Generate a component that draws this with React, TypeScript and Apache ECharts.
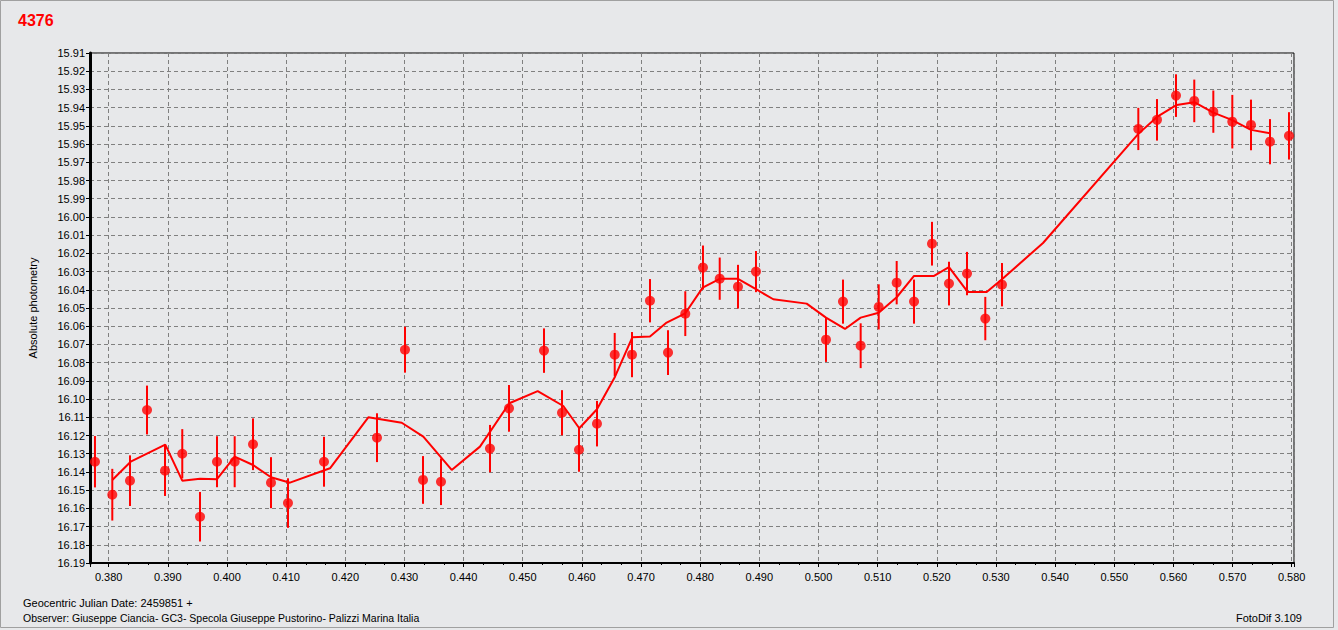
import React, { useEffect, useRef } from "react";
import * as echarts from "echarts";

const title = "4376";
const yAxisName = "Absolute photometry";
const footerDate = "Geocentric Julian Date: 2459851 +";
const footerObserver = "Observer: Giuseppe Ciancia- GC3- Specola Giuseppe Pustorino- Palizzi Marina Italia";
const footerSoftware = "FotoDif 3.109";

// x range (JD fraction) and magnitude range
const xRange = [0.37684, 0.58039];
const yRange = [15.91, 16.19];

// observations
const jd = [
  0.37768, 0.38061, 0.3836, 0.38648, 0.38952, 0.39244, 0.39544, 0.39831, 0.4013, 0.4044,
  0.40744, 0.41031, 0.4164, 0.42536, 0.43009, 0.43314, 0.43618, 0.44446, 0.44768, 0.45359,
  0.45664, 0.45951, 0.46255, 0.46555, 0.46847, 0.47151, 0.47456, 0.47748, 0.48047, 0.4833,
  0.48639, 0.48943, 0.50127, 0.50414, 0.50713, 0.51018, 0.51322, 0.51615, 0.51919, 0.52206,
  0.52511, 0.5282, 0.53102, 0.55407, 0.55723, 0.56044, 0.56353, 0.56675, 0.56996, 0.57312,
  0.57633, 0.57954,
];
const mag = [
  16.1344, 16.1525, 16.1448, 16.106, 16.1393, 16.13, 16.1646, 16.1344, 16.1344, 16.1248,
  16.1459, 16.1571, 16.1344, 16.1212, 16.0729, 16.1444, 16.1454, 16.1272, 16.1051, 16.0734,
  16.1075, 16.1278, 16.1135, 16.0756, 16.0756, 16.046, 16.0745, 16.0531, 16.0278, 16.0339,
  16.0383, 16.03, 16.0674, 16.0465, 16.0707, 16.0494, 16.0361, 16.0465, 16.0147, 16.0366,
  16.0311, 16.0558, 16.0372, 15.9517, 15.9467, 15.9334, 15.9363, 15.9422, 15.9477, 15.9495,
  15.9587, 15.9555,
];
const magErr = [
  0.0141, 0.0142, 0.0139, 0.0134, 0.0139, 0.0135, 0.0136, 0.014, 0.014, 0.0142,
  0.014, 0.0136, 0.0137, 0.0134, 0.0126, 0.0131, 0.0128, 0.013, 0.0128, 0.0122,
  0.0124, 0.0121, 0.0125, 0.0119, 0.0124, 0.0119, 0.0123, 0.0123, 0.0121, 0.0116,
  0.012, 0.0113, 0.0122, 0.0121, 0.0123, 0.0124, 0.0119, 0.0121, 0.012, 0.012,
  0.0119, 0.0119, 0.0119, 0.0116, 0.0114, 0.0117, 0.0117, 0.0116, 0.0147, 0.0139,
  0.0124, 0.013,
];

// smoothed curve
const fitJd = [
  0.38061, 0.38372, 0.38957, 0.39244, 0.39544, 0.39831, 0.4013, 0.4044, 0.40744, 0.41065,
  0.41741, 0.42389, 0.42954, 0.43319, 0.43799, 0.44277, 0.44773, 0.45253, 0.45686, 0.45956,
  0.46255, 0.4656, 0.46852, 0.47151, 0.47433, 0.47748, 0.48042, 0.4833, 0.48639, 0.48943,
  0.49236, 0.498, 0.50127, 0.50448, 0.50713, 0.51018, 0.51322, 0.51615, 0.51953, 0.52206,
  0.52522, 0.52844, 0.53102, 0.53796, 0.55407, 0.55723, 0.56056, 0.56353, 0.56675, 0.56986,
  0.57312, 0.57633,
];
const fitMag = [
  16.1444, 16.1344, 16.125, 16.1448, 16.1437, 16.144, 16.1316, 16.1362, 16.1429, 16.1459,
  16.138, 16.11, 16.113, 16.1206, 16.1389, 16.1261, 16.1023, 16.0956, 16.1038, 16.116,
  16.1056, 16.0877, 16.0661, 16.0657, 16.058, 16.0529, 16.0388, 16.034, 16.034, 16.0397,
  16.0452, 16.0476, 16.0553, 16.0615, 16.0553, 16.0526, 16.0441, 16.0324, 16.0324, 16.0276,
  16.0412, 16.0412, 16.0342, 16.0143, 15.9544, 15.9451, 15.9385, 15.937, 15.9427, 15.9467,
  15.9522, 15.954,
];

const RED = "#ff0000";
const BG = "#e7e8ea";
const FONT = "'Liberation Sans', Arial, sans-serif";

export default function App() {
  const ref = useRef<HTMLDivElement>(null);
  useEffect(() => {
    if (!ref.current) return;
    const chart = echarts.init(ref.current, undefined, { renderer: "svg" });
    const points = jd.map((x, i) => [x, mag[i]]);
    const bars = jd.map((x, i) => [x, mag[i] - magErr[i], mag[i] + magErr[i]]);
    const fit = fitJd.map((x, i) => [x, fitMag[i]]);
    chart.setOption({
      animation: false,
      backgroundColor: BG,
      textStyle: { fontFamily: FONT },
      grid: { left: 90, top: 53, width: 1204, height: 510, show: true, borderColor: "#000", borderWidth: 1, backgroundColor: "transparent" },
      xAxis: {
        type: "value",
        min: xRange[0],
        max: xRange[1],
        splitNumber: 20,
        axisLine: { show: true, onZero: false, lineStyle: { color: "#000", width: 2 } },
        axisTick: { show: true, length: 4, lineStyle: { color: "#000" } },
        minorTick: { show: true, splitNumber: 3, length: 2, lineStyle: { color: "#000" } },
        axisLabel: {
          showMinLabel: false,
          showMaxLabel: false,
          color: "#000",
          fontSize: 11,
          fontFamily: FONT,
          margin: 8,
          formatter: (v: number) => v.toFixed(3),
        },
        splitLine: { show: true, lineStyle: { color: "#808080", type: [4, 3], width: 1 } },
      },
      yAxis: {
        type: "value",
        inverse: true,
        min: yRange[0],
        max: yRange[1],
        interval: 0.01,
        name: yAxisName,
        nameLocation: "middle",
        nameGap: 52,
        nameRotate: 90,
        nameTextStyle: { color: "#000", fontSize: 11, fontFamily: FONT },
        axisLine: { show: true, onZero: false, lineStyle: { color: "#000", width: 3 } },
        axisTick: { show: true, length: 4, lineStyle: { color: "#000" } },
        axisLabel: {
          color: "#000",
          fontSize: 11,
          fontFamily: FONT,
          margin: 5,
          formatter: (v: number) => v.toFixed(2),
        },
        splitLine: { show: true, lineStyle: { color: "#808080", type: [4, 3], width: 1 } },
      },
      graphic: [
        { type: "rect", silent: true, shape: { x: 0.5, y: 0.5, width: 1333, height: 627 }, style: { fill: "none", stroke: "#a0a0a0", lineWidth: 1 } },
        { type: "text", x: 18, y: 20, style: { text: title, fill: RED, font: `bold 16px ${FONT}`, textVerticalAlign: "middle" } },
        { type: "text", x: 23, y: 603, style: { text: footerDate, fill: "#000", font: `11px ${FONT}`, textVerticalAlign: "middle" } },
        { type: "text", x: 23, y: 618, style: { text: footerObserver, fill: "#000", font: `10.5px ${FONT}`, textVerticalAlign: "middle" } },
        { type: "text", x: 1302, y: 618, style: { text: footerSoftware, fill: "#000", font: `11px ${FONT}`, textAlign: "right", textVerticalAlign: "middle" } },
      ],
      series: [
        {
          type: "custom",
          data: bars,
          encode: { x: 0, y: [1, 2] },
          renderItem: (params: any, api: any) => {
            const x = api.value(0);
            const p1 = api.coord([x, api.value(1)]);
            const p2 = api.coord([x, api.value(2)]);
            return {
              type: "line",
              shape: { x1: p1[0], y1: p1[1], x2: p2[0], y2: p2[1] },
              style: { stroke: RED, lineWidth: 2 },
            };
          },
          z: 2,
        },
        {
          type: "line",
          data: fit,
          symbol: "none",
          lineStyle: { color: RED, width: 2 },
          z: 3,
        },
        {
          type: "scatter",
          data: points,
          symbol: "circle",
          symbolSize: 10,
          itemStyle: { color: RED },
          z: 4,
        },
      ],
    });
    return () => chart.dispose();
  }, []);
  return <div ref={ref} style={{ position: "fixed", left: 0, top: 0, width: 1338, height: 630, background: BG }} />;
}
